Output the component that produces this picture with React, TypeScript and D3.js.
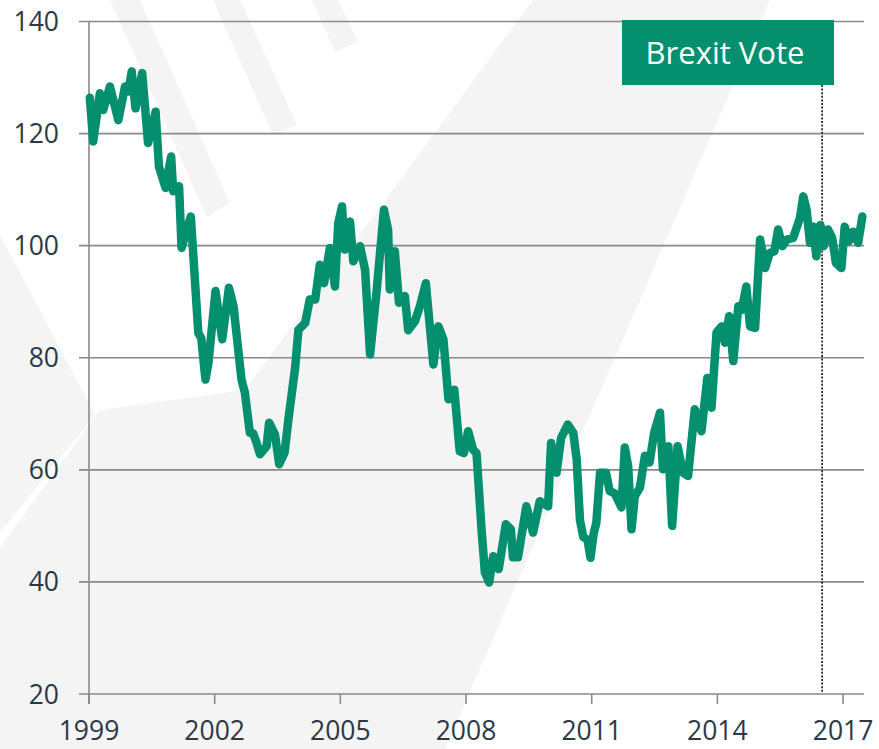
import React from 'react';
import * as d3 from 'd3';

// decimal years and index values
const dates = [
  1999.02, 1999.10, 1999.26, 1999.34, 1999.50, 1999.70, 1999.86, 1999.94, 2000.02, 2000.11,
  2000.27, 2000.41, 2000.59, 2000.67, 2000.83, 2000.96, 2001.01, 2001.15, 2001.21, 2001.43,
  2001.61, 2001.68, 2001.78, 2001.85, 2002.02, 2002.18, 2002.34, 2002.45, 2002.64, 2002.72,
  2002.84, 2002.92, 2003.00, 2003.08, 2003.24, 2003.30, 2003.44, 2003.54, 2003.67, 2003.76,
  2003.92, 2004.00, 2004.16, 2004.27, 2004.40, 2004.51, 2004.61, 2004.75, 2004.87, 2004.95,
  2005.04, 2005.10, 2005.23, 2005.31, 2005.47, 2005.59, 2005.71, 2005.87, 2006.04, 2006.14,
  2006.18, 2006.30, 2006.40, 2006.54, 2006.62, 2006.78, 2006.90, 2007.04, 2007.22, 2007.34,
  2007.46, 2007.58, 2007.72, 2007.85, 2007.95, 2008.05, 2008.17, 2008.25, 2008.37, 2008.45,
  2008.55, 2008.65, 2008.78, 2008.95, 2009.07, 2009.12, 2009.24, 2009.44, 2009.60, 2009.76,
  2009.96, 2010.03, 2010.16, 2010.27, 2010.43, 2010.56, 2010.64, 2010.72, 2010.80, 2010.90,
  2010.97, 2011.05, 2011.11, 2011.20, 2011.34, 2011.43, 2011.55, 2011.71, 2011.79, 2011.87,
  2011.95, 2012.03, 2012.15, 2012.27, 2012.38, 2012.49, 2012.63, 2012.70, 2012.83, 2012.92,
  2013.05, 2013.18, 2013.30, 2013.46, 2013.62, 2013.76, 2013.86, 2013.98, 2014.10, 2014.18,
  2014.28, 2014.38, 2014.50, 2014.58, 2014.69, 2014.78, 2014.90, 2015.02, 2015.14, 2015.25,
  2015.36, 2015.45, 2015.55, 2015.66, 2015.81, 2015.97, 2016.05, 2016.13, 2016.21, 2016.29,
  2016.36, 2016.46, 2016.54, 2016.64, 2016.74, 2016.83, 2016.96, 2017.04, 2017.14, 2017.24,
  2017.36, 2017.46,
];
const values = [
  126.4, 118.6, 127.2, 124.2, 128.4, 122.4, 128.4, 127.5, 131.1, 124.5,
  130.8, 118.3, 123.9, 114.1, 110.3, 115.9, 109.7, 110.6, 99.6, 105.2,
  84.4, 83.5, 76.1, 79.0, 91.9, 83.3, 92.5, 89.2, 76.1, 73.8,
  66.6, 66.5, 64.8, 62.8, 64.2, 68.4, 66.3, 61.0, 63.1, 69.0,
  78.2, 85.0, 86.2, 90.4, 90.4, 96.6, 93.3, 99.6, 92.7, 104.0,
  107.0, 99.3, 104.3, 97.2, 99.9, 95.7, 80.6, 92.2, 106.4, 102.8,
  92.2, 99.0, 89.8, 91.0, 84.9, 86.5, 89.2, 93.3, 78.8, 85.6,
  83.3, 72.6, 74.3, 63.3, 63.0, 66.9, 63.6, 63.0, 49.4, 41.7,
  39.9, 44.6, 42.3, 50.3, 49.4, 44.4, 44.4, 53.5, 48.8, 54.4,
  53.5, 64.8, 59.5, 65.7, 68.1, 66.6, 62.0, 51.0, 48.0, 47.5,
  44.3, 48.8, 50.5, 59.5, 59.5, 56.2, 55.8, 53.3, 64.0, 60.7,
  49.4, 55.3, 56.8, 62.5, 61.3, 66.6, 70.2, 60.1, 64.2, 50.0,
  64.2, 59.5, 58.9, 70.8, 66.9, 76.4, 71.1, 84.5, 85.6, 82.7,
  87.4, 79.4, 89.2, 88.5, 92.7, 85.6, 85.3, 101.1, 96.0, 98.7,
  99.0, 102.9, 99.9, 101.1, 101.4, 104.9, 108.8, 106.4, 100.5, 103.4,
  98.1, 103.7, 99.9, 102.9, 101.4, 96.9, 96.0, 103.4, 100.8, 102.5,
  100.5, 105.2,
];
const yTicks = [20, 40, 60, 80, 100, 120, 140];
const xTicks = [1999, 2002, 2005, 2008, 2011, 2014, 2017];
const brexitDate = 2016.5;
const brexitLabel = 'Brexit Vote';

// faint watermark shapes in the background
const watermark = [
  [[533, 0], [770, 0], [445, 749], [0, 749], [0, 548], [100, 410], [245, 390]],
  [[0, 235], [95, 415], [0, 532]],
  [[110, 0], [140, 0], [230, 203], [207, 217]],
  [[213, 0], [240, 0], [297, 125], [273, 135]],
  [[312, 0], [338, 0], [358, 42], [335, 52]],
];

const width = 879;
const height = 749;
const margin = { top: 21.5, right: 15, bottom: 55, left: 89 };
const green = '#04906e';
const axisGrey = '#8a8a8a';
const textColor = '#2c3846';
const font = '"Open Sans", sans-serif';

const App = () => {
  const x = d3.scaleLinear()
    .domain([1999, 2017.5])
    .range([margin.left, width - margin.right]);
  const y = d3.scaleLinear()
    .domain([20, 140])
    .range([height - margin.bottom, margin.top]);

  const series = dates.map((d, i) => ({ d, v: values[i] }));
  const line = d3.line<{ d: number; v: number }>()
    .x(p => x(p.d))
    .y(p => y(p.v));

  const x0 = x.range()[0];
  const x1 = x.range()[1];
  const yBase = y(20);
  const bx = x(brexitDate);

  return (
    <div style={{ position: 'absolute', left: 0, top: 0 }}>
      <svg width={width} height={height} style={{ display: 'block', background: '#fff' }}>
        {watermark.map((pts, i) => (
          <polygon key={i} points={pts.map(p => p.join(',')).join(' ')} fill="#f4f4f4" />
        ))}

        {yTicks.map(t => (
          <g key={t}>
            <line x1={x0 - 10} x2={x1} y1={y(t)} y2={y(t)} stroke={axisGrey} strokeWidth={1.6} />
            <text x={x0 - 30} y={y(t)} dy="0.36em" textAnchor="end"
              fontFamily={font} fontSize={26.5} fill={textColor}>{t}</text>
          </g>
        ))}
        <line x1={x0} x2={x0} y1={y(140)} y2={yBase + 10} stroke={axisGrey} strokeWidth={1.6} />
        {xTicks.map(t => (
          <g key={t}>
            <line x1={x(t)} x2={x(t)} y1={yBase} y2={yBase + 10} stroke={axisGrey} strokeWidth={1.6} />
            <text x={x(t)} y={yBase + 46} textAnchor="middle"
              fontFamily={font} fontSize={26.5} fill={textColor}>{t}</text>
          </g>
        ))}

        <line x1={bx} x2={bx} y1={85} y2={yBase - 2} stroke="#111" strokeWidth={1.6}
          strokeDasharray="2,1.6" />

        <path d={line(series) || ''} fill="none" stroke={green} strokeWidth={8.5}
          strokeLinejoin="round" strokeLinecap="round" />

        <rect x={622} y={20} width={212} height={65} fill={green} />
        <text x={725} y={53} dy="0.36em" textAnchor="middle" fontFamily={font}
          fontSize={31} fill="#fff">{brexitLabel}</text>
      </svg>
    </div>
  );
};

export default App;
